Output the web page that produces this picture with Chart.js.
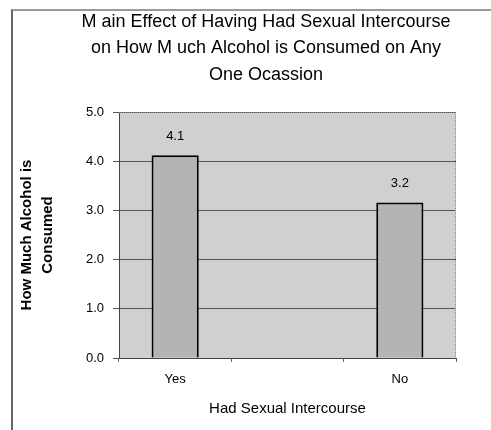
<!DOCTYPE html>
<html>
<head>
<meta charset="utf-8">
<script src="https://cdn.jsdelivr.net/npm/chart.js@4"></script>
<style>
  html, body { margin: 0; padding: 0; background: #fff; }
  #wrap { position: relative; width: 491px; height: 430px; }
  #frame { position: absolute; left: 11px; top: 9px; right: 0; bottom: 0;
           border-top: 2px solid #999; border-left: 2px solid #666; pointer-events: none; }
</style>
</head>
<body>
<div id="wrap">
  <canvas id="chart" width="491" height="430"></canvas>
  <div id="frame"></div>
</div>
<script>
// chart values
var categories = ['Yes', '', 'No'];
var alcohol = [4.12, null, 3.16];
var yTicks = [0, 1, 2, 3, 4, 5];
var titleLines = ['M ain Effect of Having Had Sexual Intercourse',
                  'on How M uch Alcohol is Consumed on Any',
                  'One Ocassion'];

var fontFam = '"Liberation Sans", Arial, sans-serif';

// grey plot background, title and the value above each bar
var extras = {
  id: 'extras',
  beforeDraw: function (chart) {
    var a = chart.chartArea, c = chart.ctx;
    c.save();
    c.fillStyle = '#d0d0d0';
    c.fillRect(a.left, a.top, a.right - a.left, a.bottom - a.top);
    c.restore();
  },
  afterDraw: function (chart) {
    var a = chart.chartArea, c = chart.ctx;
    c.save();
    c.strokeStyle = '#888';
    c.lineWidth = 1;
    c.setLineDash([1, 1]);
    c.beginPath();
    c.moveTo(a.left, a.top + 0.5);
    c.lineTo(a.right - 0.5, a.top + 0.5);
    c.lineTo(a.right - 0.5, a.bottom);
    c.stroke();
    c.setLineDash([]);
    c.font = '18px ' + fontFam;
    c.fillStyle = '#000';
    c.textAlign = 'center';
    c.textBaseline = 'middle';
    titleLines.forEach(function (t, i) {
      c.fillText(t, 266, 22 + i * 26.5);
    });
    c.restore();
  },
  afterDatasetsDraw: function (chart) {
    var c = chart.ctx;
    var meta = chart.getDatasetMeta(0);
    c.save();
    c.font = '13px ' + fontFam;
    c.fillStyle = '#000';
    c.textAlign = 'center';
    c.textBaseline = 'middle';
    meta.data.forEach(function (bar, i) {
      var v = alcohol[i];
      if (v == null) return;
      c.fillText(v.toFixed(1), bar.x, bar.y - 19);
    });
    c.restore();
  }
};

new Chart(document.getElementById('chart').getContext('2d'), {
  type: 'bar',
  data: {
    labels: categories,
    datasets: [{
      data: alcohol,
      backgroundColor: '#b4b4b4',
      borderColor: '#000',
      borderWidth: 2,
      categoryPercentage: 1,
      barPercentage: 0.42
    }]
  },
  options: {
    responsive: false,
    animation: false,
    layout: { padding: { left: 14, right: 35, top: 112, bottom: 12 } },
    plugins: {
      legend: { display: false },
      tooltip: { enabled: false },
      title: { display: false }
    },
    scales: {
      x: {
        afterFit: function (s) { s.height = 60; },
        grid: { display: true, drawOnChartArea: false, offset: true, color: '#666', tickLength: 4 },
        border: { color: '#444' },
        ticks: { color: '#000', font: { family: fontFam, size: 13 }, padding: 10 },
        title: {
          display: true,
          text: 'Had Sexual Intercourse',
          color: '#000',
          font: { family: fontFam, size: 15 },
          padding: { top: 10, bottom: 0 }
        }
      },
      y: {
        min: 0,
        max: 5,
        afterFit: function (s) { s.width = 105; },
        afterBuildTicks: function (s) { s.ticks = yTicks.map(function (v) { return { value: v }; }); },
        grid: { color: '#555', tickLength: 6 },
        border: { color: '#444' },
        ticks: {
          color: '#000',
          font: { family: fontFam, size: 13 },
          padding: 9,
          callback: function (v) { return Number(v).toFixed(1); }
        },
        title: {
          display: true,
          text: ['How Much Alcohol is', 'Consumed'],
          color: '#000',
          font: { family: fontFam, size: 15, weight: 'bold', lineHeight: 1.4 },
          padding: { top: 2, bottom: 0 }
        }
      }
    }
  },
  plugins: [extras]
});
</script>
</body>
</html>
